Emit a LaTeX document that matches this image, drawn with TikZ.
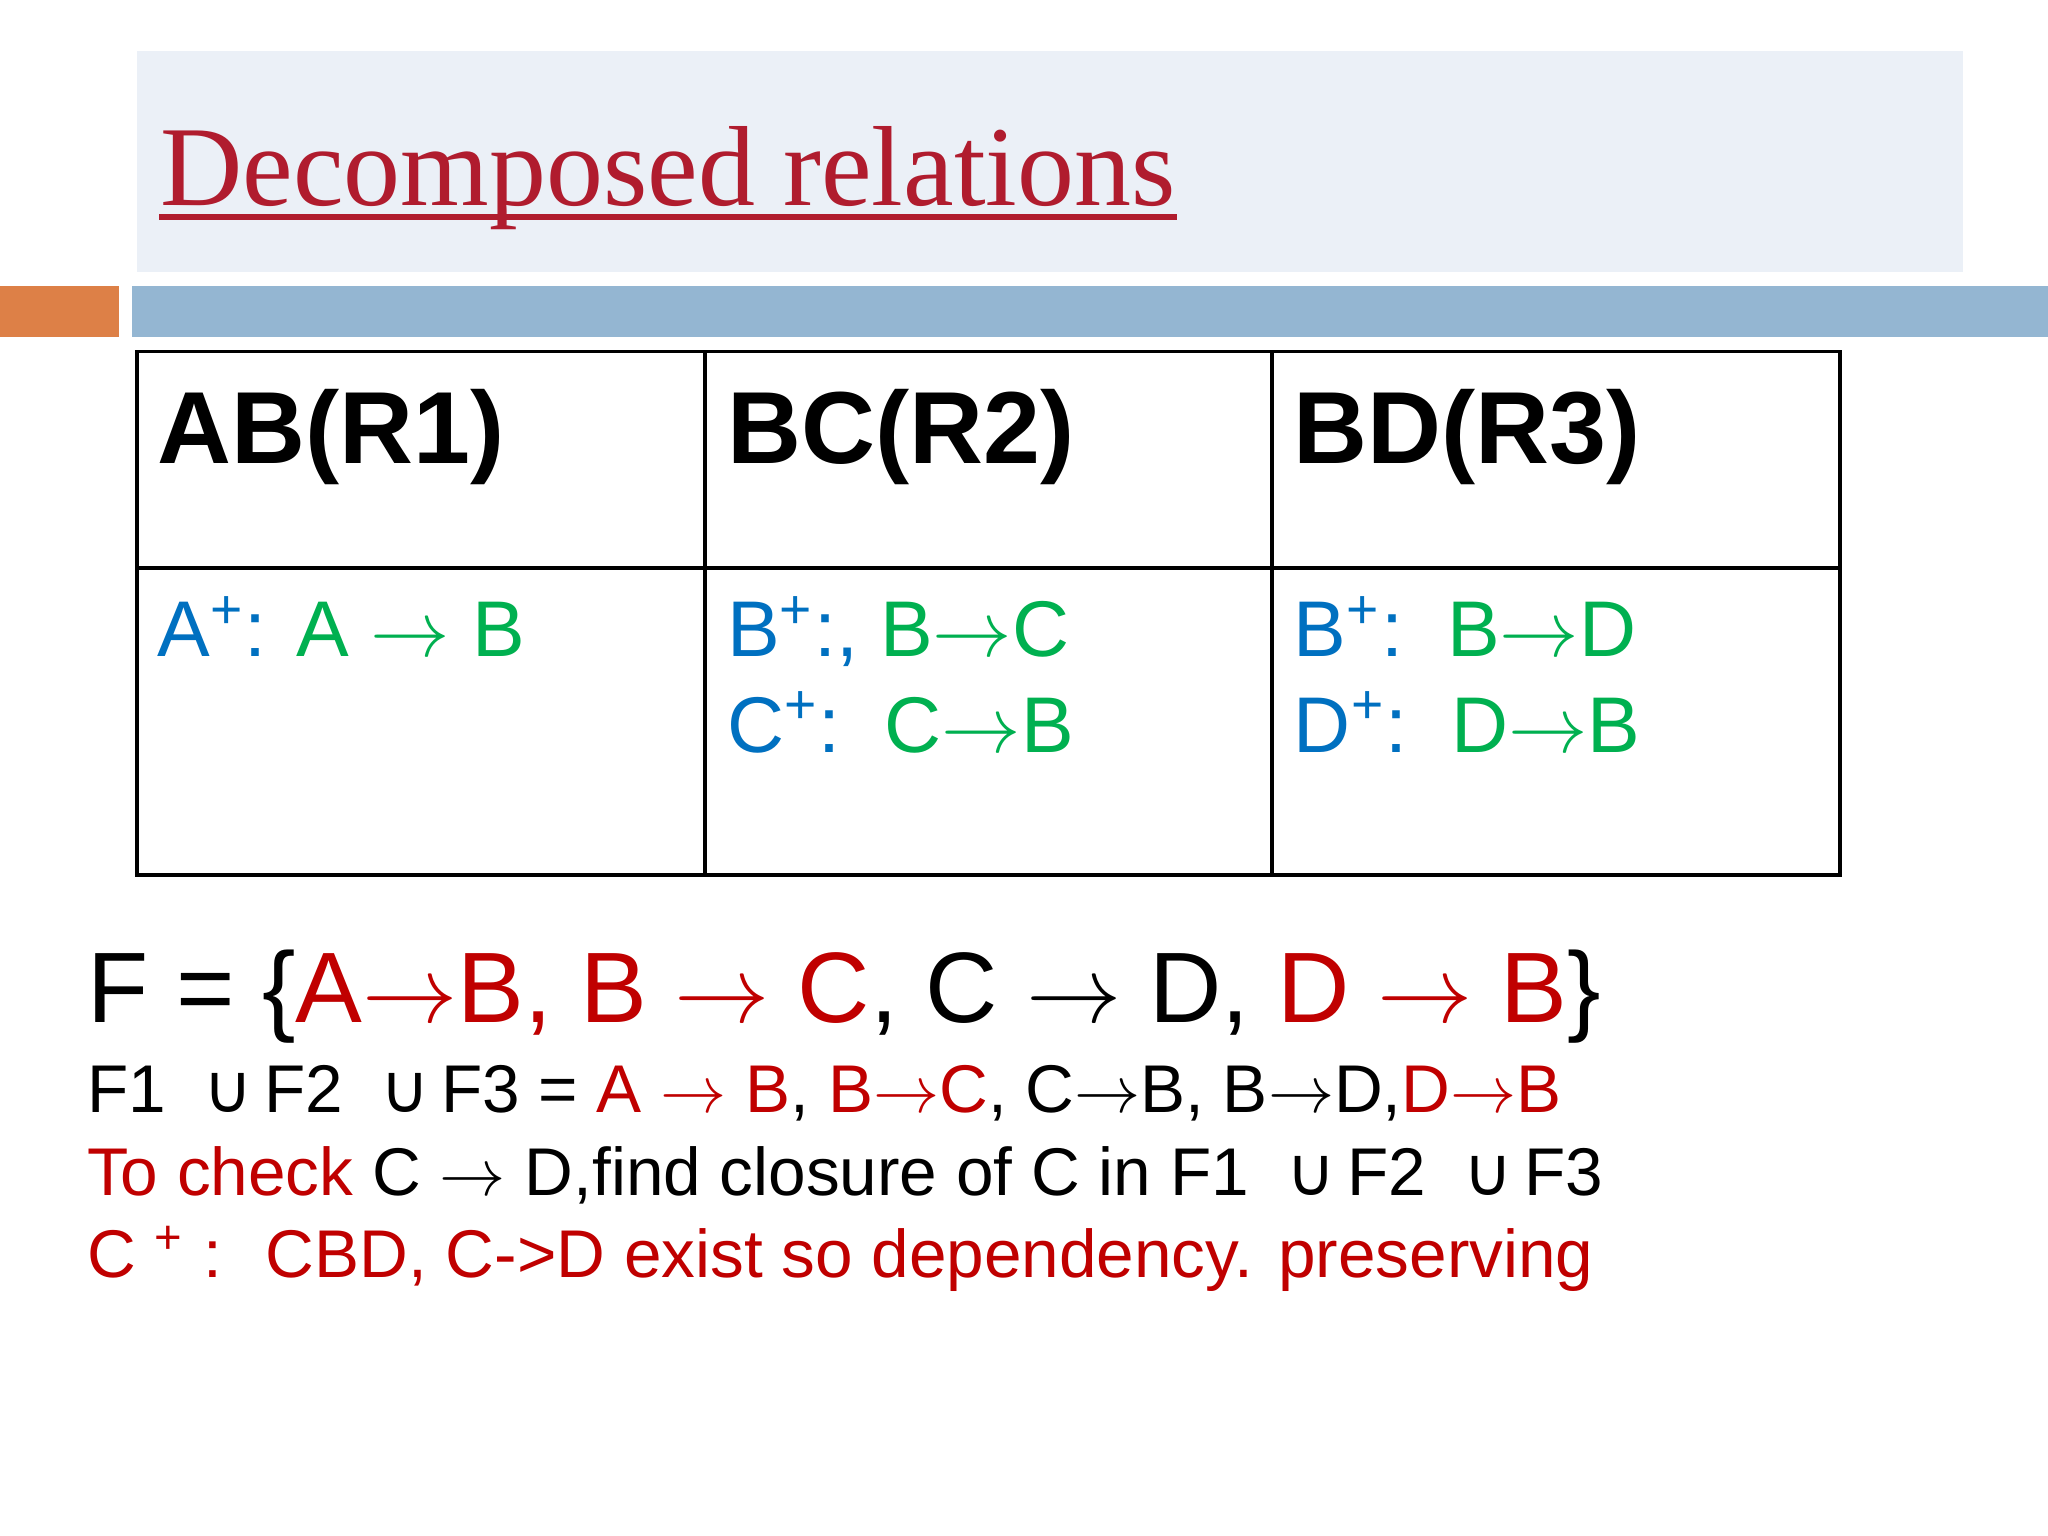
\documentclass[tikz,border=0pt]{standalone}
\usepackage{fontspec}
\setmainfont{Liberation Sans}
\newfontfamily\serif{Liberation Serif}
\newfontfamily\dv{DejaVu Sans}
\definecolor{tred}{HTML}{B01C2E}
\definecolor{rd}{HTML}{C00000}
\definecolor{bl}{HTML}{0070C0}
\definecolor{gr}{HTML}{00B050}
\definecolor{band}{HTML}{EBF0F7}
\definecolor{orng}{HTML}{DD8047}
\definecolor{bbar}{HTML}{94B6D2}
\begin{document}
\begin{tikzpicture}[x=0.01cm,y=-0.01cm,
  txt/.style={anchor=base west,inner sep=0pt},
  hd/.style={txt,font=\fontsize{22.3}{26}\selectfont\bfseries},
  cell/.style={txt,font=\fontsize{17.2}{21}\selectfont},
  sm/.style={txt,font=\fontsize{14.7}{18}\selectfont}]
\useasboundingbox (0,0) rectangle (1568,1176);
\fill[white] (0,0) rectangle (1568,1176);
\fill[band] (105,39) rectangle (1503,208);
\fill[orng] (0,219) rectangle (91,258);
\fill[bbar] (101,219) rectangle (1568,258);
\node[txt,font=\fontsize{24.8}{30}\selectfont\serif,text=tred] (title) at (122,157) {Decomposed relations};
\draw[tred,line width=1.2pt] (title.base west)++(0,9) -- ([yshift=-9*0.01cm]title.base east);
\draw[line width=0.8pt] (105,269) rectangle (1409,670);
\draw[line width=0.8pt] (105,435) -- (1409,435);
\draw[line width=0.8pt] (540,269) -- (540,670);
\draw[line width=0.8pt] (974,269) -- (974,670);
\node[hd] (h1) at (120,355) {AB(R1)};
\node[hd] (h2) at (556,355) {BC(R2)};
\node[hd] (h3) at (990,355) {BD(R3)};
\node[cell] (c1) at (120,503) {\textcolor{bl}{A\textsuperscript{+}:} \textcolor{gr}{A $\rightarrow$ B}};
\node[cell] (c2a) at (556,503) {\textcolor{bl}{B\textsuperscript{+}:,} \textcolor{gr}{B$\rightarrow$C}};
\node[cell] (c2b) at (556,576) {\textcolor{bl}{C\textsuperscript{+}:}\ \ \textcolor{gr}{C$\rightarrow$B}};
\node[cell] (c3a) at (990,503) {\textcolor{bl}{B\textsuperscript{+}:}\ \ \textcolor{gr}{B$\rightarrow$D}};
\node[cell] (c3b) at (990,576) {\textcolor{bl}{D\textsuperscript{+}:}\ \ \textcolor{gr}{D$\rightarrow$B}};
\node[txt,font=\fontsize{21.8}{26}\selectfont] (F) at (66,783) {F = \{\textcolor{rd}{A$\rightarrow$B, B $\rightarrow$ C}, C $\rightarrow$ D, \textcolor{rd}{D $\rightarrow$ B}\}};
\node[sm] (l1) at (66,852) {F1 \ {\dv∪}\,F2 \ {\dv∪}\,F3 = \textcolor{rd}{A $\rightarrow$ B}, \textcolor{rd}{B$\rightarrow$C}, C$\rightarrow$B, B$\rightarrow$D,\textcolor{rd}{D$\rightarrow$B}};
\node[sm] (l2) at (66,915) {\textcolor{rd}{To check} C $\rightarrow$ D,find closure of C in F1 \ {\dv∪}\,F2 \ {\dv∪}\,F3};
\node[sm,text=rd] (l3) at (66,978) {C \textsuperscript{+} : \ CBD, C->D exist so dependency. preserving};
\end{tikzpicture}
\end{document}
